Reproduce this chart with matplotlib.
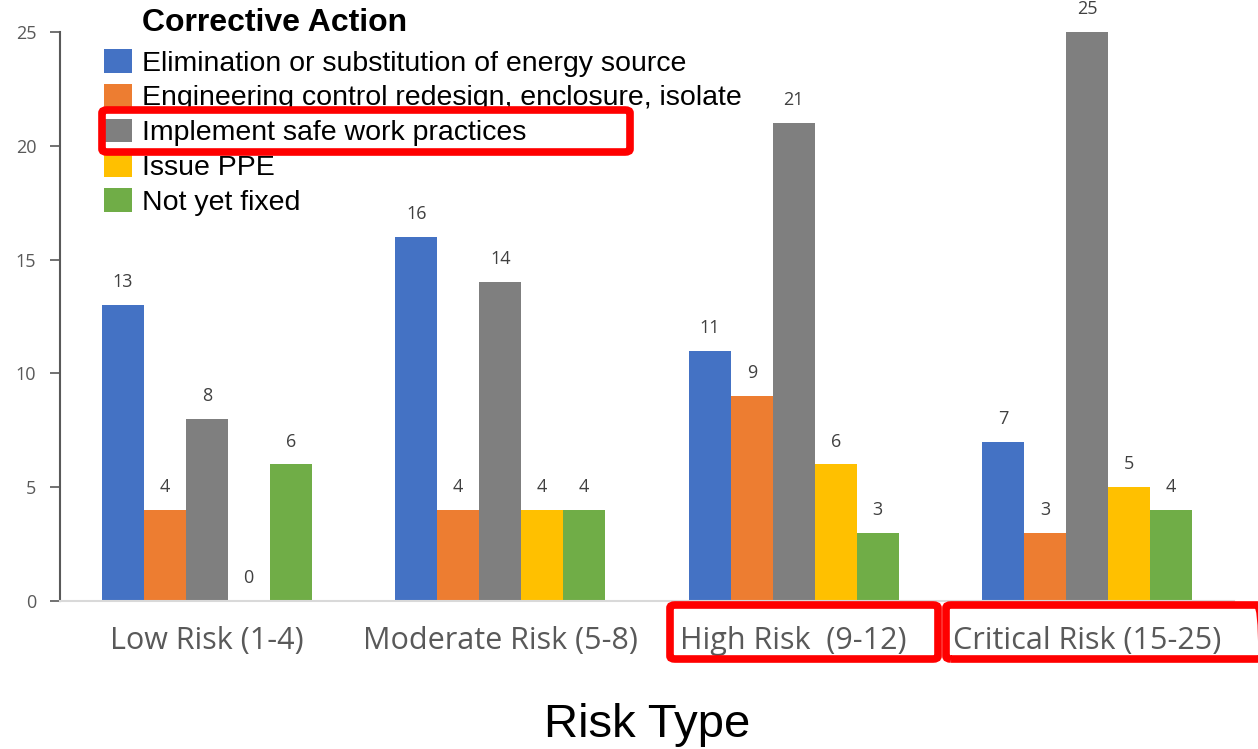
import matplotlib
matplotlib.use("Agg")
import matplotlib.pyplot as plt
import numpy as np
from matplotlib.patches import FancyBboxPatch, Patch

categories = ["Low Risk (1-4)", "Moderate Risk (5-8)", "High Risk  (9-12)", "Critical Risk (15-25)"]
series_names = ["Elimination or substitution of energy source",
                "Engineering control redesign, enclosure, isolate",
                "Implement safe work practices",
                "Issue PPE",
                "Not yet fixed"]
elimination = [13, 16, 11, 7]
engineering = [4, 4, 9, 3]
safe_work = [8, 14, 21, 25]
issue_ppe = [0, 4, 6, 5]
not_fixed = [6, 4, 3, 4]
series_values = [elimination, engineering, safe_work, issue_ppe, not_fixed]
colors = ["#4472C4", "#ED7D31", "#7F7F7F", "#FFC000", "#70AD47"]
yticks = [0, 5, 10, 15, 20, 25]

plt.rcParams['font.family'] = ['Liberation Sans', 'DejaVu Sans']

W, H = 1258, 749
fig = plt.figure(figsize=(W / 100, H / 100), dpi=100)
ax = fig.add_axes([60 / W, 1 - 601 / H, (1234 - 60) / W, (601 - 32) / H])

x = np.arange(len(categories))
bw = 0.143
for i, (vals, c) in enumerate(zip(series_values, colors)):
    pos = x + (i - 2) * bw
    ax.bar(pos, vals, width=bw, color=c, label=series_names[i], zorder=2)
    for p, v in zip(pos, vals):
        ax.annotate(str(v), (p, v), xytext=(0, 16.5), textcoords="offset points",
                    ha="center", va="center", fontsize=13, color="#404040",
                    family="Open Sans", annotation_clip=False)

ax.set_xlim(-0.5, 3.5)
ax.set_ylim(0, 25)
ax.set_yticks(yticks)
ax.set_yticklabels([str(t) for t in yticks], fontsize=13, color="#595959", family="Open Sans")
ax.set_xticks(x)
ax.set_xticklabels(categories, fontsize=22, color="#595959", family="Open Sans")
ax.tick_params(axis="x", length=0, pad=18)
ax.tick_params(axis="y", length=7, width=1.2, color="#595959", pad=10)
for s in ["top", "right"]:
    ax.spines[s].set_visible(False)
ax.spines["left"].set_color("#595959")
ax.spines["left"].set_linewidth(1.5)
ax.spines["bottom"].set_color("#D9D9D9")
ax.spines["bottom"].set_linewidth(1.5)
ax.set_xlabel("Risk Type", fontsize=34, labelpad=34, color="black")

# legend
handles = [Patch(facecolor=c, edgecolor="none") for c in colors]
fig.text(142 / W, 1 - 23 / H, "Corrective Action", fontsize=23, fontweight="bold",
         ha="left", va="center", color="black")
fig.legend(handles, series_names, loc="upper left", bbox_to_anchor=(104 / W, 1 - 49 / H),
           frameon=False, fontsize=20.5, handlelength=1.0, handleheight=0.9,
           handletextpad=0.35, labelspacing=0.25, borderpad=0, borderaxespad=0)

# red highlight boxes (annotations)
def red_box(x0, y0, x1, y1):
    fig.patches.append(FancyBboxPatch((x0 / W, 1 - y1 / H), (x1 - x0) / W, (y1 - y0) / H,
                                      boxstyle="round,pad=0,rounding_size=0.004",
                                      transform=fig.transFigure, fill=False,
                                      edgecolor="#FF0000", linewidth=5.5, zorder=10))

red_box(102, 110, 630, 152)
red_box(670, 605, 938, 659)
red_box(946, 605, 1262, 659)

fig.savefig("out.png", dpi=100)
